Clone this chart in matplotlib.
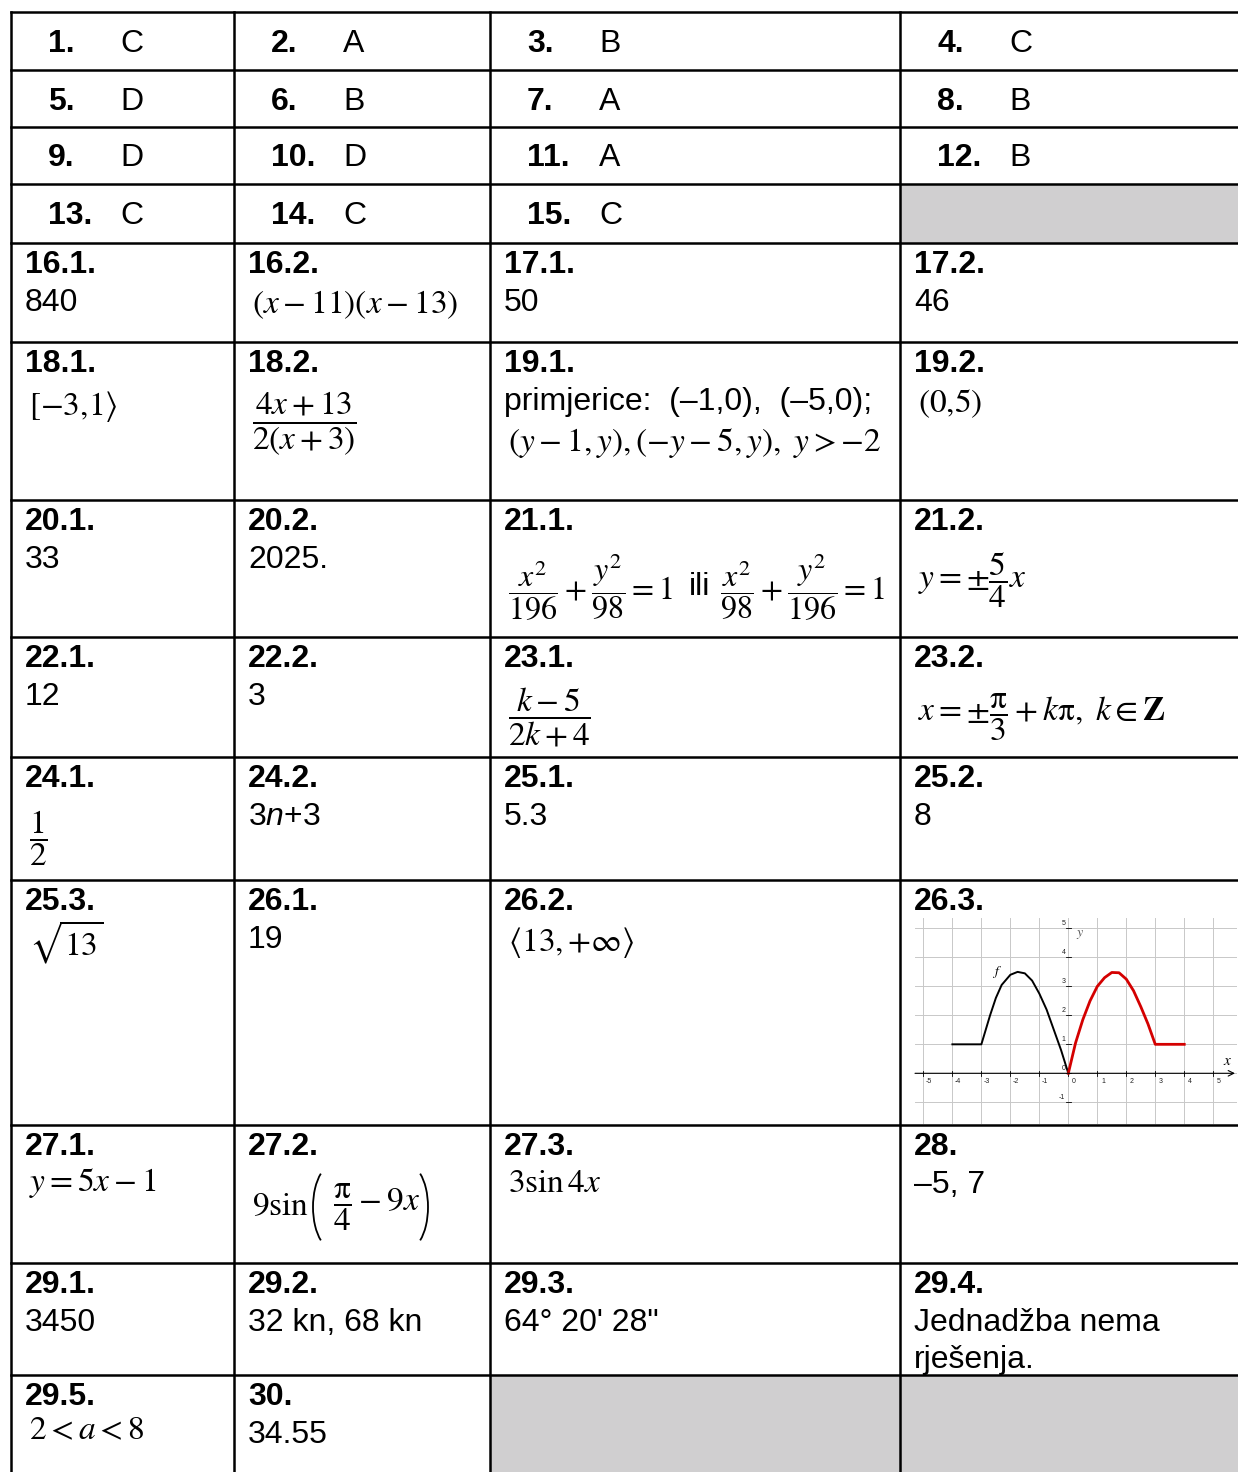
import matplotlib
matplotlib.use("Agg")
import matplotlib.pyplot as plt
from matplotlib.patches import Rectangle, Arc

plt.rcParams['font.family'] = ['Liberation Sans', 'DejaVu Sans']
plt.rcParams['mathtext.fontset'] = 'custom'
plt.rcParams['mathtext.rm'] = 'Liberation Sans'
plt.rcParams['mathtext.it'] = 'Liberation Sans:italic'
plt.rcParams['mathtext.bf'] = 'Liberation Sans:bold'

W, H = 1238, 1472
FS = 23      # text size
MS = 24      # formula size

# --- data -------------------------------------------------------------
mc_numbers = ["1.", "2.", "3.", "4.", "5.", "6.", "7.", "8.",
              "9.", "10.", "11.", "12.", "13.", "14.", "15."]
mc_answers = ["C", "A", "B", "C", "D", "B", "A", "B",
              "D", "D", "A", "B", "C", "C", "C"]

open_labels = [
    ["16.1.", "16.2.", "17.1.", "17.2."],
    ["18.1.", "18.2.", "19.1.", "19.2."],
    ["20.1.", "20.2.", "21.1.", "21.2."],
    ["22.1.", "22.2.", "23.1.", "23.2."],
    ["24.1.", "24.2.", "25.1.", "25.2."],
    ["25.3.", "26.1.", "26.2.", "26.3."],
    ["27.1.", "27.2.", "27.3.", "28."],
    ["29.1.", "29.2.", "29.3.", "29.4."],
    ["29.5.", "30.", None, None],
]
# a tuple = several pieces on one line
open_answers = [
    [["840"], [r"$\left(x-11\right)\left(x-13\right)$"], ["50"], ["46"]],
    [[r"$\left[-3{,}1\right\rangle$"], [r"$\dfrac{4x+13}{2\left(x+3\right)}$"],
     ["primjerice:  (–1,0),  (–5,0);",
      r"$\left(y-1,y\right),\left(-y-5,y\right),\ y>-2$"],
     [r"$\left(0{,}5\right)$"]],
    [["33"], ["2025."],
     [(r"$\dfrac{x^2}{196}+\dfrac{y^2}{98}=1$", "ili", r"$\dfrac{x^2}{98}+\dfrac{y^2}{196}=1$")],
     [r"$y=\pm\dfrac{5}{4}x$"]],
    [["12"], ["3"], [r"$\dfrac{k-5}{2k+4}$"],
     [r"$x=\pm\dfrac{\mathrm{\pi}}{3}+k\mathrm{\pi},\ k\in\mathbf{Z}$"]],
    [[r"$\dfrac{1}{2}$"], ["3$n$+3"], ["5.3"], ["8"]],
    [[r"$\sqrt{13}$"], ["19"], [r"$\left\langle 13,{+}\infty\right\rangle$"], []],
    [[r"$y=5x-1$"], [(r"$9\sin$", "(", r"$\dfrac{\mathrm{\pi}}{4}-9x$", ")")],
     [r"$3\sin 4x$"], ["–5, 7"]],
    [["3450"], ["32 kn, 68 kn"], ["64° 20' 28\""], ["Jednadžba nema", "rješenja."]],
    [[r"$2<a<8$"], ["34.55"], [], []],
]

# graph in 26.3
f_x = [-4, -3, -2.85, -2.7, -2.5, -2.3, -2.0, -1.75, -1.5, -1.25, -1.0, -0.75, -0.5, -0.25, 0]
f_y = [1, 1, 1.5, 2.0, 2.6, 3.05, 3.4, 3.5, 3.45, 3.2, 2.75, 2.2, 1.5, 0.8, 0]
g_x = [0, 0.25, 0.5, 0.75, 1.0, 1.25, 1.5, 1.75, 2.0, 2.25, 2.5, 2.75, 3.0, 4.0]
g_y = [0, 1.05, 1.85, 2.5, 3.0, 3.3, 3.48, 3.47, 3.25, 2.85, 2.3, 1.7, 1.0, 1.0]

# --- layout -----------------------------------------------------------
row_edges = [12, 70, 127, 184, 243, 342, 500, 637, 757, 880, 1125, 1263, 1375, 1472]
col_edges = [11, 234, 490, 900, 1238]
grey_cells = [(3, 3), (12, 2), (12, 3)]   # (row, col)
# vertical centre of formula line, measured from row top
math_center = {"16.2.": 62, "18.1.": 65, "18.2.": 81, "19.1.": 101, "19.2.": 62,
               "21.1.": 87, "21.2.": 80, "23.1.": 80, "23.2.": 80, "24.1.": 81,
               "25.3.": 62, "26.2.": 62, "27.1.": 58, "27.2.": 82, "27.3.": 58,
               "29.5.": 56}
# x offsets of pieces on one line, from formula start
piece_x = {"21.1.": [0, 181, 212], "27.2.": [0, 61, 81, 161]}
piece_size = {"21.1.": 23, "27.2.": MS}

fig = plt.figure(figsize=(W / 100, H / 100), dpi=100)
ax = fig.add_axes([0, 0, 1, 1])
ax.set_xlim(0, W)
ax.set_ylim(H, 0)
ax.axis('off')

for r, c in grey_cells:
    ax.add_patch(Rectangle((col_edges[c], row_edges[r]), col_edges[c + 1] - col_edges[c],
                           row_edges[r + 1] - row_edges[r], color='#d0cfd0', lw=0))

for y in row_edges[:-1]:
    ax.plot([col_edges[0], W], [y, y], color='black', lw=1.8, solid_capstyle='projecting')
for x in col_edges[:-1]:
    ax.plot([x, x], [row_edges[0], H], color='black', lw=1.8, solid_capstyle='projecting')

# multiple choice rows
for i, (num, ans) in enumerate(zip(mc_numbers, mc_answers)):
    r, c = divmod(i, 4)
    base = (row_edges[r] + row_edges[r + 1]) / 2 + 11
    x0 = col_edges[c]
    ax.text(x0 + 37, base, num, fontsize=FS, fontweight='bold', va='baseline')
    ax.text(x0 + 109, base, ans, fontsize=FS, va='baseline')


def draw_piece(x, y, s, size):
    if s in "()":
        # tall thin bracket
        if s == "(":
            ax.add_patch(Arc((x + 20, y), 40, 84, theta1=110, theta2=250, lw=1.3, color='black'))
        else:
            ax.add_patch(Arc((x - 5, y), 40, 84, theta1=-70, theta2=70, lw=1.3, color='black'))
    elif '$' in s:
        ax.text(x, y, s, fontsize=size, va='center', math_fontfamily='stix')
    else:
        ax.text(x, y + 8, s, fontsize=FS, va='baseline')


# open answers
for r, (labs, anss) in enumerate(zip(open_labels, open_answers)):
    top = row_edges[r + 4]
    for c, (lab, lines) in enumerate(zip(labs, anss)):
        if lab is None:
            continue
        x0 = col_edges[c] + 14
        ax.text(x0, top + 30, lab, fontsize=FS, fontweight='bold', va='baseline')
        for k, line in enumerate(lines):
            if isinstance(line, tuple):
                for dx, piece in zip(piece_x[lab], line):
                    draw_piece(x0 + 4 + dx, top + math_center[lab], piece, piece_size[lab])
            elif line.startswith('$'):
                ax.text(x0 + 4, top + math_center[lab], line, fontsize=MS,
                        va='center', math_fontfamily='stix')
            else:
                ax.text(x0, top + 68 + 37 * k, line, fontsize=FS, va='baseline')

# graph 26.3
gl, gt, gr, gb = 915, 918, 1237, 1124
gax = fig.add_axes([gl / W, 1 - gb / H, (gr - gl) / W, (gb - gt) / H])
gax.set_xlim(-5.29, 5.82)
gax.set_ylim(-1.75, 5.36)
gax.axis('off')
for v in range(-5, 6):
    gax.axvline(v, color='#c8c8c8', lw=0.7)
for v in range(-1, 6):
    gax.axhline(v, color='#c8c8c8', lw=0.7)
gax.annotate('', xy=(5.75, 0), xytext=(-5.29, 0),
             arrowprops=dict(arrowstyle='->', lw=0.8, color='black', shrinkA=0, shrinkB=0))
gax.annotate('', xy=(0, 5.45), xytext=(0, -1.75),
             arrowprops=dict(arrowstyle='->', lw=0.8, color='black', shrinkA=0, shrinkB=0))
for v in range(-5, 6):
    gax.plot([v, v], [-0.08, 0.08], color='black', lw=0.6)
    gax.text(v + 0.2, -0.3, str(v), fontsize=5, ha='center', va='center', color='#222222')
for v in range(-1, 6):
    gax.plot([-0.08, 0.08], [v, v], color='black', lw=0.6)
    if v != 0:
        gax.text(-0.1, v + 0.17, str(v), fontsize=5, ha='right', va='center', color='#222222')
gax.text(-0.1, 0.17, '0', fontsize=5, ha='right', va='center', color='#222222')
gax.plot(f_x, f_y, color='black', lw=1.4)
gax.plot(g_x, g_y, color='#d40000', lw=2.0)
gax.text(-2.65, 3.4, '$f$', fontsize=10, math_fontfamily='stix')
gax.text(5.35, 0.3, '$x$', fontsize=11, math_fontfamily='stix')
gax.text(0.25, 4.75, '$y$', fontsize=10, math_fontfamily='stix', color='#555555')

fig.savefig('out.png', dpi=100)
